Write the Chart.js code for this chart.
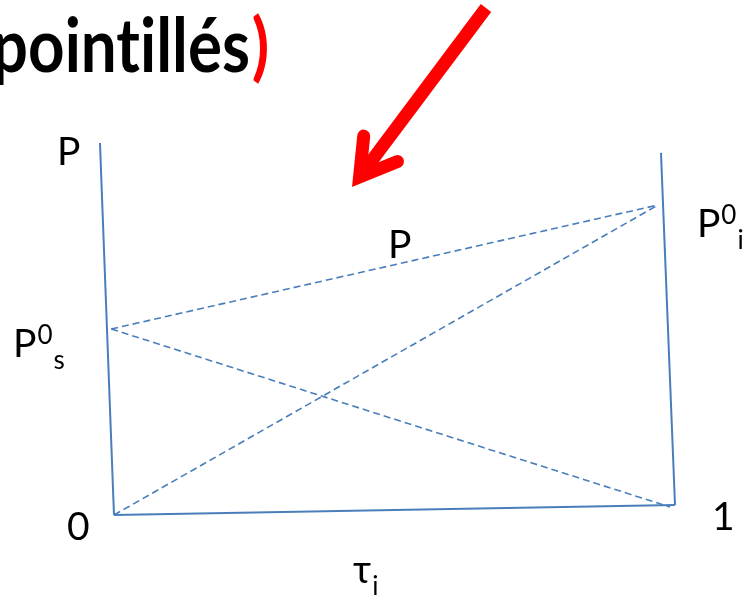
<!DOCTYPE html>
<html><head><meta charset="utf-8">
<script src="https://cdn.jsdelivr.net/npm/chart.js@4/dist/chart.umd.min.js"></script>
<style>html,body{margin:0;padding:0;background:#fff;overflow:hidden}#c{display:block}</style>
</head><body>
<canvas id="c" width="743" height="595"></canvas>
<script>
// Pressure – composition diagram of an ideal binary mixture (P versus τi)
const P0s = 60;   // vapour pressure of pure s (τi = 0)
const P0i = 100;  // vapour pressure of pure i (τi = 1)

// hand-drawn frame
const leftAxisTau  = [-0.025, 0];
const leftAxisP    = [120, 0];
const baseTau      = [0, 1];
const baseP        = [0, 3.2];
const rightAxisTau = [0.975, 1];
const rightAxisP   = [116.8, 3.2];

// dashed lines: total pressure and the two partial pressures
const totalTau = [-0.005, 0.970];
const totalP   = [P0s, P0i];
const partSTau = [-0.005, 0.991];
const partSP   = [P0s, 2.6];
const partITau = [0, 0.970];
const partIP   = [0, P0i];

const BLUE = '#4a7ebb';
const FONT = 'Lato, "Open Sans", sans-serif';

function pts(xs, ys) { return xs.map((x, k) => ({ x: x, y: ys[k] })); }
function solid(xs, ys) {
  return { data: pts(xs, ys), showLine: true, borderColor: BLUE, borderWidth: 2,
           pointRadius: 0, fill: false, tension: 0 };
}
function dashed(xs, ys) {
  return { data: pts(xs, ys), showLine: true, borderColor: BLUE, borderWidth: 1.6,
           borderDash: [7, 4], pointRadius: 0, fill: false, tension: 0 };
}

// text labels anchored in data space: [main, sup, sub, τ, P]
const labels = [
  ['P', '', '', -0.1016, 112.9],
  ['P', '0', 's', -0.180, 51.0],
  ['P', '0', 'i', 1.039, 89.7],
  ['P', '', '', 0.4884, 82.9],
  ['0', '', '', -0.0838, -8.06],
  ['1', '', '', 1.066, -4.84],
  ['\u03C4', '', 'i', 0.426, -21.9]
];

const annotations = {
  id: 'annotations',
  afterDraw(chart) {
    const ctx = chart.ctx;
    const xs = chart.scales.x, ys = chart.scales.y;
    ctx.save();
    ctx.fillStyle = '#000';
    ctx.textBaseline = 'alphabetic';
    ctx.textAlign = 'left';
    labels.forEach(([main, sup, sub, t, p]) => {
      let x = xs.getPixelForValue(t);
      const y = ys.getPixelForValue(p);
      ctx.font = '39px ' + FONT;
      ctx.fillText(main, x, y);
      x += ctx.measureText(main).width + 1;
      ctx.font = '26px ' + FONT;
      if (sup) { ctx.fillText(sup, x, y - 13); x += ctx.measureText(sup).width + 1; }
      if (sub) { ctx.fillText(sub, x, y + 12); }
    });

    // heading fragment; ZWNJ keeps "t" and "i" as separate glyphs
    ctx.font = 'bold 75px ' + FONT;
    const tail = 'oint\u200Cill\u00e9s';
    const sx = 222 / ctx.measureText(tail).width;
    ctx.save();
    ctx.translate(250, 72);
    ctx.scale(sx, 1);
    ctx.textAlign = 'right';
    ctx.fillStyle = '#000';
    ctx.fillText('p' + tail, 0, 0);
    ctx.textAlign = 'left';
    ctx.fillStyle = '#ff0000';
    ctx.fillText(')', 2, 0);
    ctx.restore();

    // red pointer arrow
    const tip = { x: 352, y: 187 }, end = { x: 486, y: 8 };
    const dx = end.x - tip.x, dy = end.y - tip.y, len = Math.hypot(dx, dy);
    const ux = dx / len, uy = dy / len;
    const w = 13, half = 31 * Math.PI / 180, arm = 41;
    const back = (w / 2) / Math.sin(half);
    const vx = tip.x + ux * back, vy = tip.y + uy * back;
    ctx.strokeStyle = '#ff0000';
    ctx.lineWidth = w;
    ctx.lineCap = 'butt';
    ctx.beginPath(); ctx.moveTo(vx + ux * 6, vy + uy * 6); ctx.lineTo(end.x, end.y); ctx.stroke();
    const rot = (a) => ({ x: ux * Math.cos(a) - uy * Math.sin(a), y: ux * Math.sin(a) + uy * Math.cos(a) });
    const a1 = rot(half), a2 = rot(-half);
    ctx.lineCap = 'round';
    ctx.lineJoin = 'miter';
    ctx.miterLimit = 10;
    ctx.beginPath();
    ctx.moveTo(vx + a1.x * arm, vy + a1.y * arm);
    ctx.lineTo(vx, vy);
    ctx.lineTo(vx + a2.x * arm, vy + a2.y * arm);
    ctx.stroke();
    ctx.restore();
  }
};

new Chart(document.getElementById('c'), {
  type: 'scatter',
  data: {
    datasets: [
      solid(leftAxisTau, leftAxisP),
      solid(baseTau, baseP),
      solid(rightAxisTau, rightAxisP),
      dashed(totalTau, totalP),
      dashed(partSTau, partSP),
      dashed(partITau, partIP)
    ]
  },
  options: {
    responsive: false,
    animation: false,
    layout: { padding: 0 },
    plugins: { legend: { display: false }, tooltip: { enabled: false }, title: { display: false } },
    scales: {
      x: { type: 'linear', display: false, min: -0.2032, max: 1.1212 },
      y: { type: 'linear', display: false, min: -25.8, max: 166.1 }
    }
  },
  plugins: [annotations]
});
</script>
</body></html>
